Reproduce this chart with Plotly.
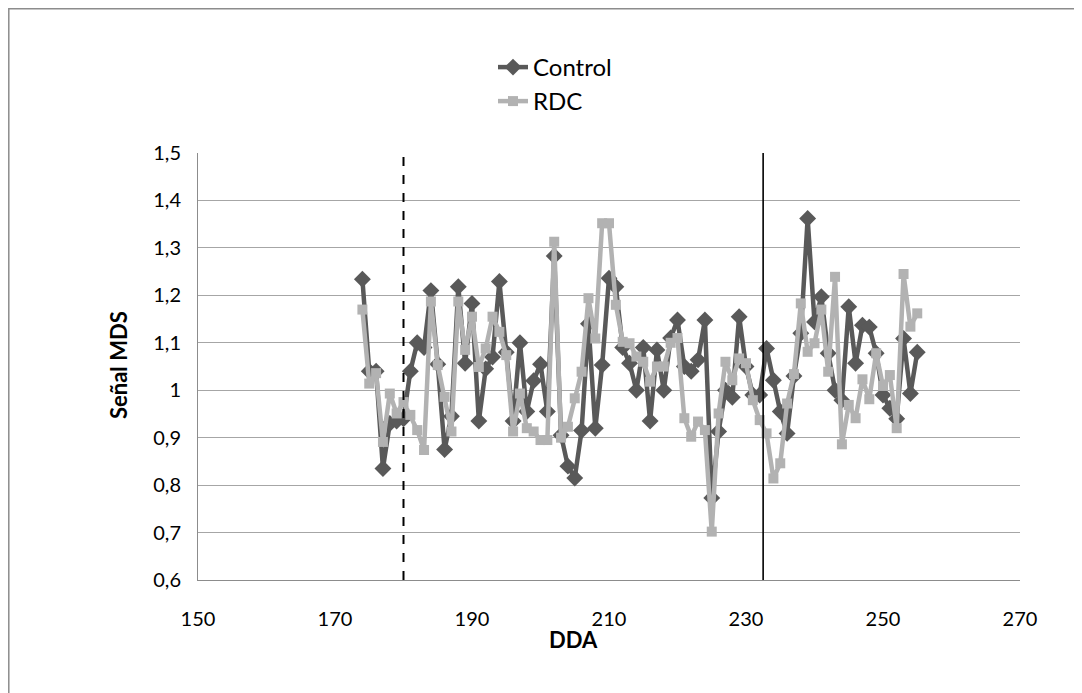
import plotly.graph_objects as go

# ---- data ----
days = list(range(174, 256))

control = [
    1.234, 1.04, 1.04, 0.835, 0.93, 0.935, 0.94, 1.04, 1.10, 1.09,      # 174-183
    1.21, 1.055, 0.875, 0.945, 1.218, 1.057, 1.183, 0.935, 1.045, 1.07,  # 184-193
    1.229, 1.08, 0.935, 1.10, 0.955, 1.02, 1.055, 0.955, 1.283, 0.905,   # 194-203
    0.84, 0.815, 0.915, 1.14, 0.92, 1.053, 1.236, 1.218, 1.09, 1.057,    # 204-213
    1.0, 1.09, 0.935, 1.085, 1.0, 1.11, 1.148, 1.05, 1.04, 1.064,        # 214-223
    1.148, 0.773, 0.913, 1.0, 0.985, 1.155, 1.05, 0.99, 0.99, 1.088,     # 224-233
    1.021, 0.955, 0.909, 1.03, 1.12, 1.362, 1.144, 1.197, 1.078, 1.0,    # 234-243
    0.979, 1.176, 1.057, 1.137, 1.133, 1.078, 0.99, 0.962, 0.94, 1.109,  # 244-253
    0.993, 1.08,                                                         # 254-255
]

rdc = [
    1.17, 1.014, 1.036, 0.891, 0.993, 0.951, 0.975, 0.948, 0.916, 0.874,  # 174-183
    1.187, 1.053, 0.986, 0.913, 1.187, 1.085, 1.155, 1.049, 1.088, 1.155, # 184-193
    1.123, 1.074, 0.913, 0.993, 0.92, 0.913, 0.895, 0.895, 1.313, 0.90,   # 194-203
    0.923, 0.983, 1.039, 1.194, 1.109, 1.352, 1.352, 1.18, 1.102, 1.099,  # 204-213
    1.071, 1.06, 1.018, 1.05, 1.05, 1.10, 1.11, 0.941, 0.902, 0.934,      # 214-223
    0.916, 0.702, 0.951, 1.06, 1.021, 1.067, 1.057, 0.979, 0.937, 0.909,  # 224-233
    0.814, 0.846, 0.972, 1.034, 1.183, 1.081, 1.099, 1.17, 1.039, 1.239,  # 234-243
    0.886, 0.969, 0.941, 1.023, 0.981, 1.078, 1.009, 1.032, 0.92, 1.245,  # 244-253
    1.134, 1.162,                                                         # 254-255
]

series_names = ["Control", "RDC"]
x_ticks = [150, 170, 190, 210, 230, 250, 270]
y_ticks = [0.6, 0.7, 0.8, 0.9, 1.0, 1.1, 1.2, 1.3, 1.4, 1.5]
y_tick_labels = ["0,6", "0,7", "0,8", "0,9", "1", "1,1", "1,2", "1,3", "1,4", "1,5"]
x_title = "DDA"
y_title = "Señal MDS"
dashed_day = 180
solid_day = 232.5

FONT = "Lato"
DARK = "#595959"
LIGHT = "#b2b2b2"

# figure is drawn inside the page's default 8px body margin
W, H = 1074, 685
L, R, T, B = 190, 62, 145, 113
PW, PH = W - L - R, H - T - B


def px(xs):   # figure pixel -> paper x
    return (xs - L) / PW


def py(ys):   # figure pixel -> paper y
    return (H - B - ys) / PH


fig = go.Figure()
fig.add_trace(go.Scatter(
    x=days, y=control, name=series_names[0], mode="lines+markers",
    line=dict(color=DARK, width=4.5),
    marker=dict(symbol="diamond", size=13, color=DARK),
    legend="legend",
))
fig.add_trace(go.Scatter(
    x=days, y=rdc, name=series_names[1], mode="lines+markers",
    line=dict(color=LIGHT, width=4.5),
    marker=dict(symbol="square", size=10, color=LIGHT),
    legend="legend2",
))

# vertical reference lines
fig.add_shape(type="line", xref="x", yref="y", x0=dashed_day, x1=dashed_day,
              y0=0.6, y1=1.51, line=dict(color="black", width=2, dash="dash"))
fig.add_shape(type="line", xref="x", yref="y", x0=solid_day, x1=solid_day,
              y0=0.6, y1=1.51, line=dict(color="black", width=1.6))

# chart-area border (bottom edge lies below the visible page)
fig.add_shape(type="rect", xref="paper", yref="paper",
              x0=px(0.8), x1=px(1069), y0=py(700), y1=py(0.8),
              line=dict(color="#8c8c8c", width=1.5), layer="below")

# axis titles
fig.add_annotation(text="<b>%s</b>" % x_title, xref="paper", yref="paper",
                   x=px(565), y=py(631), xanchor="center", yanchor="middle",
                   showarrow=False, font=dict(size=22, family=FONT, color="black"))
fig.add_annotation(text="<b>%s</b>" % y_title, xref="paper", yref="paper",
                   x=px(110), y=py(357), xanchor="center", yanchor="middle",
                   textangle=-90, showarrow=False,
                   font=dict(size=22, family=FONT, color="black"))

fig.update_layout(
    width=W, height=H,
    margin=dict(l=L, r=R, t=T, b=B, autoexpand=False),
    paper_bgcolor="white", plot_bgcolor="white",
    font=dict(family=FONT, size=20, color="black"),
    showlegend=True,
    legend=dict(x=px(485), y=py(37), xanchor="left", yanchor="top",
                font=dict(size=24, family=FONT, color="black"),
                bgcolor="rgba(0,0,0,0)", itemwidth=30),
    legend2=dict(x=px(485), y=py(71), xanchor="left", yanchor="top",
                 font=dict(size=24, family=FONT, color="black"),
                 bgcolor="rgba(0,0,0,0)", itemwidth=30),
    xaxis=dict(
        range=[150, 270], tickvals=x_ticks, ticktext=[str(v) for v in x_ticks],
        showgrid=False, zeroline=False, showline=True, linecolor="#8c8c8c", linewidth=1,
        ticks="", tickfont=dict(size=20, family=FONT, color="black"),
        ticklabelstandoff=21,
    ),
    yaxis=dict(
        range=[0.6, 1.5], tickvals=y_ticks, ticktext=y_tick_labels,
        showgrid=True, gridcolor="#a6a6a6", gridwidth=1.2, zeroline=False,
        showline=True, linecolor="#8c8c8c", linewidth=1,
        ticks="", tickfont=dict(size=20, family=FONT, color="black"),
        ticklabelstandoff=12,
    ),
)

fig.write_html("out.html")
